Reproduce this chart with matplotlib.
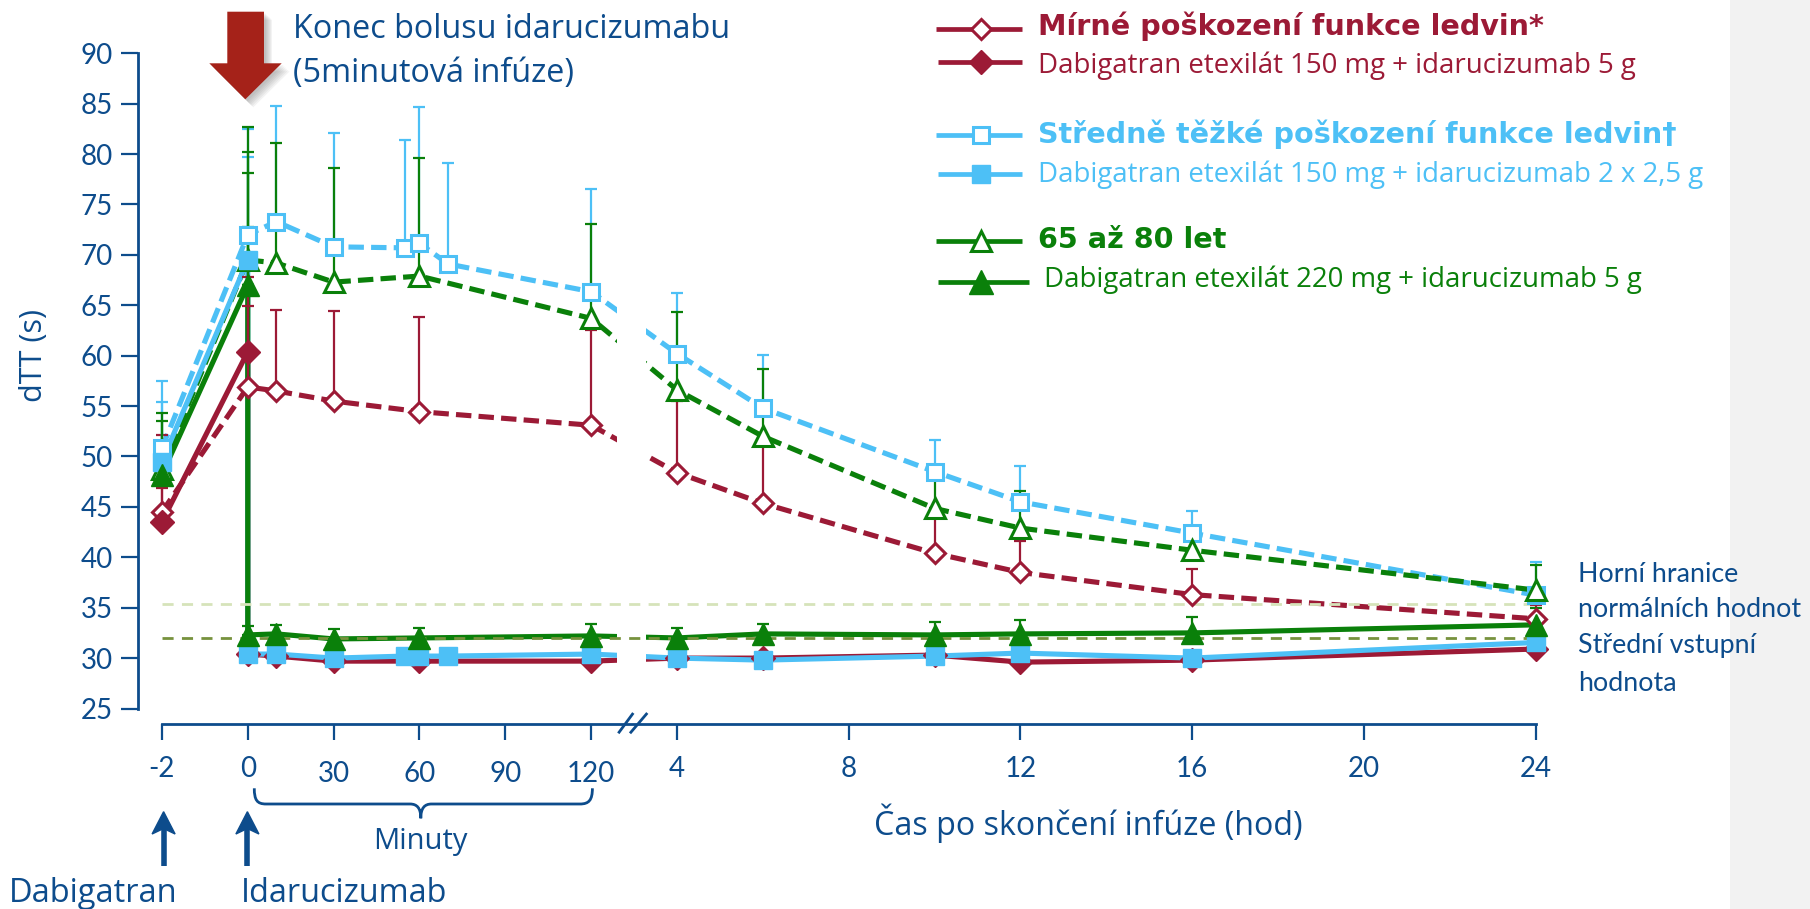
import numpy as np
import matplotlib
matplotlib.use('Agg')
import matplotlib.pyplot as plt
from matplotlib.patches import Polygon, Rectangle, PathPatch
from matplotlib.path import Path

plt.rcParams['font.family'] = ['Lato', 'DejaVu Sans']

W, H, DPI = 1810, 909, 100

# ---------------- data (time in hours; minutes converted) ----------------
t_std = [-2, 0, 10/60, 30/60, 60/60, 120/60, 4, 6, 10, 12, 16, 24]
t_blue = [-2, 0, 10/60, 30/60, 55/60, 60/60, 70/60, 120/60, 4, 6, 10, 12, 16, 24]
t_std_drop = [-2, 0, 0, 10/60, 30/60, 60/60, 120/60, 4, 6, 10, 12, 16, 24]
t_blue_drop = [-2, 0, 0, 10/60, 30/60, 55/60, 60/60, 70/60, 120/60, 4, 6, 10, 12, 16, 24]

# open markers: dabigatran alone (dashed)
red_open = [44.5, 56.9, 56.5, 55.5, 54.45, 53.1, 48.4, 45.35, 40.4, 38.5, 36.3, 33.9]
red_open_top = [52.1, 64.9, 64.5, 64.4, 63.8, 62.55, 55.5, 51.2, 44.0, 41.6, 38.8, 35.3]
blue_open = [50.8, 72.0, 73.3, 70.8, 70.7, 71.15, 69.1, 66.35, 60.2, 54.8, 48.5, 45.5, 42.4, 36.25]
blue_open_top = [57.5, 82.5, 84.8, 82.1, 81.4, 84.7, 79.1, 76.5, 66.25, 60.1, 51.6, 49.05, 44.6, 39.55]
green_open = [48.8, 69.5, 69.2, 67.3, 67.9, 63.7, 56.6, 52.0, 44.85, 42.9, 40.7, 36.75]
green_open_top = [54.3, 82.7, 81.1, 78.6, 79.6, 73.1, 64.3, 58.65, 48.8, 46.6, 43.1, 39.2]

# filled markers: dabigatran + idarucizumab (solid)
red_fill = [43.5, 60.4, 30.4, 30.2, 29.7, 29.7, 29.7, 30.0, 30.0, 30.3, 29.6, 29.8, 30.9]
red_fill_top = [46.9, 67.8] + [np.nan] * 11
blue_fill = [49.5, 69.5, 30.4, 30.4, 30.0, 30.2, 30.2, 30.2, 30.4, 30.0, 29.8, 30.2, 30.5, 30.0, 31.55]
blue_fill_top = [55.4, 79.7] + [np.nan] * 13
green_fill = [48.2, 67.0, 32.3, 32.4, 31.9, 32.0, 32.2, 32.0, 32.4, 32.3, 32.4, 32.5, 33.3]
green_fill_top = [53.55, 80.2, 33.2, 33.3, 32.9, 33.0, 33.4, 32.95, 33.4, 33.6, 33.8, 34.1, 35.0]
green_extra_t = [0, 0]
green_extra_y = [67.0, 67.0]
green_extra_top = [78.1, 72.8]

upper_normal = 35.4
baseline_mean = 32.0

xtick_pos = [-2, 0, 0.5, 1, 1.5, 2, 4, 8, 12, 16, 20, 24]
xtick_lab = ['-2', '0', '30', '60', '90', '120', '4', '8', '12', '16', '20', '24']
xtick_is_min = [False, False, True, True, True, True, False, False, False, False, False, False]
yticks = list(range(25, 91, 5))

legend_rows = [
    ('Mírné poškození funkce ledvin*', True, 'red', 'D'),
    ('Dabigatran etexilát 150 mg + idarucizumab 5 g', False, 'red', 'D'),
    ('Středně těžké poškození funkce ledvin†', True, 'blue', 's'),
    ('Dabigatran etexilát 150 mg + idarucizumab 2 x 2,5 g', False, 'blue', 's'),
    ('65 až 80 let', True, 'green', '^'),
    ('Dabigatran etexilát 220 mg + idarucizumab 5 g', False, 'green', '^'),
]

# ---------------- style ----------------
C = {'red': '#9C1A36', 'blue': '#4DC0F6', 'green': '#0A800A'}
NAVY = '#0D4C8C'
LIGHT = '#D6E3BA'
OLIVE = '#77923D'
OPEN_SANS = ['Open Sans', 'DejaVu Sans']
BOLD_FONT = ['DejaVu Sans']

# piecewise axis scale (hours -> axis units)
knots_t = [-10, -2, 0, 2, 4, 24, 40]
knots_u = [-4, 0, 1, 5, 6, 16, 24]
def fwd(t):
    return np.interp(t, knots_t, knots_u)
def inv(u):
    return np.interp(u, knots_u, knots_t)

fig = plt.figure(figsize=(W / DPI, H / DPI), dpi=DPI)
fig.patch.set_facecolor('white')

def rect(l, t, r, b):
    return [l / W, 1 - b / H, (r - l) / W, (b - t) / H]

ax = fig.add_axes(rect(137.8, 53.3, 1560, 708.5))
ax.set_xscale('function', functions=(fwd, inv))
ax.set_xlim(-2.562, 24.57)
ax.set_ylim(25, 90)
ax.patch.set_alpha(0)

for s in ['top', 'right']:
    ax.spines[s].set_visible(False)
ax.spines['left'].set_color(NAVY)
ax.spines['left'].set_linewidth(2.0)
ax.spines['bottom'].set_color(NAVY)
ax.spines['bottom'].set_linewidth(2.0)
ax.spines['bottom'].set_position(('outward', 11.2))
ax.spines['bottom'].set_bounds(-2, 24)

ax.set_xticks(xtick_pos)
ax.set_xticklabels([''] * len(xtick_pos))
ax.tick_params(axis='x', direction='out', length=11.5, width=1.6, color=NAVY)
ax.set_yticks(yticks)
ax.tick_params(axis='y', direction='out', length=12.2, width=1.6, color=NAVY,
               labelcolor=NAVY, labelsize=20, pad=6)
ax.minorticks_off()

xt = ax.get_xaxis_transform()
for p, lab, ismin in zip(xtick_pos, xtick_lab, xtick_is_min):
    yb = 782 if ismin else 777
    ax.text(p, (708.5 - yb) / 655.2, lab, transform=xt, ha='center', va='baseline',
            fontsize=20, color=NAVY, clip_on=False)

DASH = (0, (3.0, 1.4))
LW = 3.7
# dashed (open) lines
ax.plot(t_std, red_open, color=C['red'], lw=LW, ls=DASH, zorder=2.0)
ax.plot(t_blue, blue_open, color=C['blue'], lw=LW, ls=DASH, zorder=2.1)
ax.plot(t_std, green_open, color=C['green'], lw=LW, ls=DASH, zorder=2.2)
# solid (filled) lines
ax.plot(t_std_drop, red_fill, color=C['red'], lw=LW, zorder=2.3)
ax.plot(t_blue_drop, blue_fill, color=C['blue'], lw=LW, zorder=2.4)
ax.plot(t_std_drop, green_fill, color=C['green'], lw=LW, zorder=2.5)

# axis-break gap in the lines
ax.axvspan(2.6, 3.27, color='white', zorder=2.6, lw=0)

# reference lines
ax.hlines(upper_normal, -2, 24, colors=LIGHT, lw=2.0, linestyles=(0, (4, 3)), zorder=2.7)
ax.hlines(baseline_mean, -2, 24, colors=OLIVE, lw=2.0, linestyles=(0, (4, 3)), zorder=2.7)

def ebar(t, y, top, col):
    y = np.asarray(y, float)
    top = np.asarray(top, float)
    ax.errorbar(t, y, yerr=[np.zeros_like(y), top - y], fmt='none', ecolor=col,
                elinewidth=1.6, capsize=4.5, capthick=1.6, zorder=2.8)

ebar(t_std, red_open, red_open_top, C['red'])
ebar(t_std_drop, red_fill, red_fill_top, C['red'])
ebar(t_blue, blue_open, blue_open_top, C['blue'])
ebar(t_blue_drop, blue_fill, blue_fill_top, C['blue'])
ebar(t_std, green_open, green_open_top, C['green'])
ebar(t_std_drop, green_fill, green_fill_top, C['green'])
ebar(green_extra_t, green_extra_y, green_extra_top, C['green'])

# markers
ax.plot(t_std, red_open, ls='none', marker='D', ms=10, mfc='white', mec=C['red'], mew=2.2, zorder=3.0)
ax.plot(t_blue, blue_open, ls='none', marker='s', ms=11.5, mfc='white', mec=C['blue'], mew=2.2, zorder=3.1)
ax.plot(t_std, green_open, ls='none', marker='^', ms=15, mfc='white', mec=C['green'], mew=2.2, zorder=3.2)
ax.plot(t_std_drop, red_fill, ls='none', marker='D', ms=12, color=C['red'], zorder=3.3)
ax.plot(t_blue_drop, blue_fill, ls='none', marker='s', ms=12.5, color=C['blue'], zorder=3.4)
ax.plot(t_std_drop, green_fill, ls='none', marker='^', ms=16, color=C['green'], zorder=3.5)

# ---------------- overlay in pixel coordinates ----------------
ov = fig.add_axes([0, 0, 1, 1], zorder=10)
ov.set_xlim(0, W)
ov.set_ylim(H, 0)
ov.axis('off')

ov.add_patch(Rectangle((1730, 0), 80, H, fc='#F2F2F2', ec='none', zorder=0))

# red arrow with soft shadow
arrow_pts = np.array([(227.3, 11.7), (264, 11.7), (264, 63.3), (281.7, 63.3),
                      (245.3, 99.3), (209.3, 63.3), (227.3, 63.3)])
for i in range(6):
    d = 2 + i * 1.2
    ov.add_patch(Polygon(arrow_pts + [d, d], closed=True, fc='#555555', ec='none',
                         alpha=0.07, zorder=1))
ov.add_patch(Polygon(arrow_pts, closed=True, fc='#A52219', ec='none', zorder=2))

ov.text(292.7, 38.3, 'Konec bolusu idarucizumabu', fontsize=23.3, color=NAVY,
        family=OPEN_SANS, va='baseline', ha='left')
ov.text(292.7, 81.7, '(5minutová infúze)', fontsize=23.3, color=NAVY,
        family=OPEN_SANS, va='baseline', ha='left')

# y label
ov.text(34, 356, 'dTT (s)', fontsize=22, color=NAVY, family=OPEN_SANS,
        rotation=90, ha='center', va='center')

# axis break marks
for x0, x1 in [(618.3, 633.3), (630.0, 647.3)]:
    ov.plot([x0, x1], [733.3, 713.0], color=NAVY, lw=2.0, solid_capstyle='butt')

# brace for minutes
brace = Path([(254.3, 788.3), (254.3, 800), (257, 804), (266, 804),
              (410, 804),
              (417, 804), (420.8, 808), (420.8, 818.3),
              (420.8, 808), (424.6, 804), (431.6, 804),
              (580, 804),
              (589, 804), (592.4, 800), (592.4, 788.3)],
             [Path.MOVETO, Path.CURVE4, Path.CURVE4, Path.CURVE4,
              Path.LINETO,
              Path.CURVE4, Path.CURVE4, Path.CURVE4,
              Path.CURVE4, Path.CURVE4, Path.CURVE4,
              Path.LINETO,
              Path.CURVE4, Path.CURVE4, Path.CURVE4])
ov.add_patch(PathPatch(brace, fc='none', ec=NAVY, lw=2.0))
ov.text(420.5, 849, 'Minuty', fontsize=21, color=NAVY, family=OPEN_SANS,
        ha='center', va='baseline')
ov.text(1088, 835, 'Čas po skončení infúze (hod)', fontsize=23.2, color=NAVY,
        family=OPEN_SANS, ha='center', va='baseline')

# up arrows
for x in [163.6, 247.4]:
    ov.plot([x, x], [866, 828], color=NAVY, lw=4.0, solid_capstyle='butt')
    ov.add_patch(Polygon([(x, 811.7), (x + 11.5, 834), (x, 828.5), (x - 11.5, 834)],
                         closed=True, fc=NAVY, ec=NAVY, lw=1))
ov.text(9, 902, 'Dabigatran', fontsize=23.5, color=NAVY, family=OPEN_SANS,
        ha='left', va='baseline')
ov.text(241, 902, 'Idarucizumab', fontsize=23.4, color=NAVY, family=OPEN_SANS,
        ha='left', va='baseline')

# right labels
for txt, yb in [('Horní hranice', 581.7), ('normálních hodnot', 616.7),
                ('Střední vstupní', 653.3), ('hodnota', 690.7)]:
    ov.text(1578, yb, txt, fontsize=19.3, color=NAVY, ha='left', va='baseline')

# legend
row_line_y = [29.3, 62.3, 135, 174, 240.7, 281.7]
row_base_y = [35, 72.7, 142.7, 181.7, 248.3, 286.7]
for (txt, bold, col, mk), ly, by in zip(legend_rows, row_line_y, row_base_y):
    c = C[col]
    x1 = 1028.8 if (col == 'green' and not bold) else 1022
    x0 = 936 if bold else 937.7
    ov.plot([x0, x1], [ly, ly], color=c, lw=3.4, solid_capstyle='butt')
    ms = {'D': 10.5, 's': 11.5, '^': 15}[mk]
    if bold:
        ov.plot([981], [ly], marker=mk, ms=ms, mfc='white', mec=c, mew=2.2, ls='none')
    else:
        ov.plot([981], [ly], marker=mk, ms=ms + 2, color=c, ls='none')
    tx = 1044 if (col == 'green' and not bold) else 1038
    if bold:
        ov.text(tx, by, txt, fontsize=20.6, fontweight='bold', family=BOLD_FONT,
                color=c, ha='left', va='baseline')
    else:
        ov.text(tx, by, txt, fontsize=19.9, family=OPEN_SANS,
                color=c, ha='left', va='baseline')

fig.savefig('out.png', dpi=DPI, facecolor='white')
